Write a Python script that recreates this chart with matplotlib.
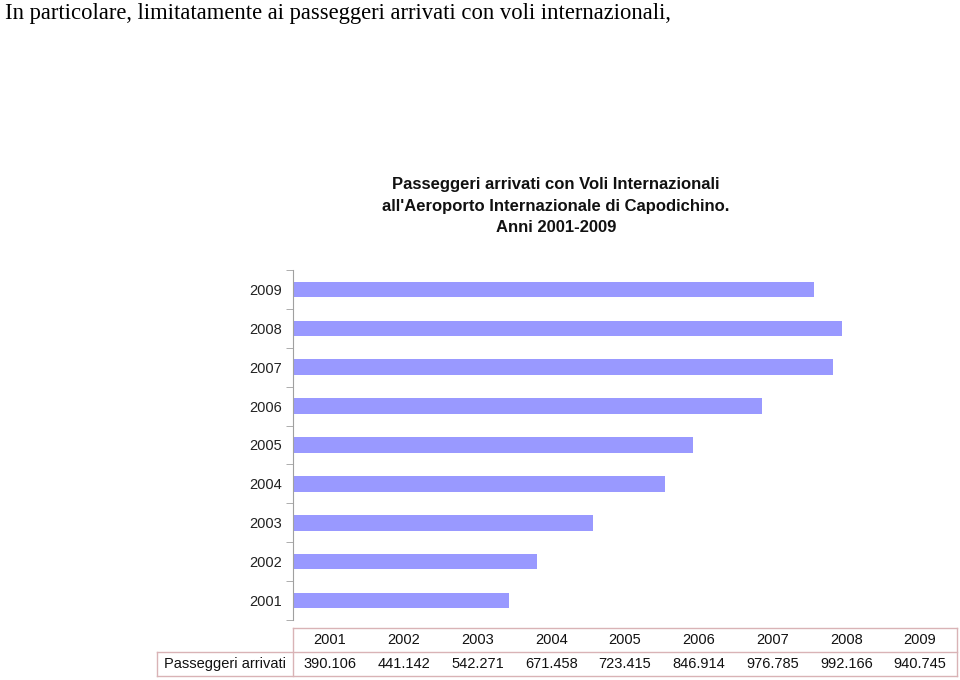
import numpy as np
import matplotlib.pyplot as plt

years = ['2001', '2002', '2003', '2004', '2005', '2006', '2007', '2008', '2009']
passengers = [390.106, 441.142, 542.271, 671.458, 723.415, 846.914, 976.785, 992.166, 940.745]
value_labels = ['390.106', '441.142', '542.271', '671.458', '723.415',
                '846.914', '976.785', '992.166', '940.745']
row_label = 'Passeggeri arrivati'

plt.rcParams['font.family'] = ['Liberation Sans', 'DejaVu Sans']

fig = plt.figure(figsize=(9.6, 6.8), dpi=100)
ax = fig.add_axes([293 / 960, 1 - 620 / 680, 664 / 960, 350 / 680])

# bars, 2001 at the bottom
pos = np.arange(len(years))
ax.barh(pos, passengers, height=0.4, color='#9999ff')
ax.set_xlim(0, 1200)
ax.set_ylim(-0.5, len(years) - 0.5)

for s in ['top', 'right', 'bottom']:
    ax.spines[s].set_visible(False)
ax.spines['left'].set_color('#a0a0a0')
ax.set_xticks([])
ax.set_yticks(pos)
ax.set_yticklabels(years, fontsize=10.5, color='#222222')
ax.tick_params(axis='y', which='major', length=0, pad=8)
ax.set_yticks(np.arange(len(years) + 1) - 0.5, minor=True)
ax.tick_params(axis='y', which='minor', length=5, color='#a0a0a0')

# data table under the axes
n = len(years)
tr = ax.transAxes
y_top, y_mid, y_bot = -8 / 350, -32 / 350, -56 / 350
x_lab = -136 / 664
bc = '#d9b3b6'
kw = dict(transform=tr, clip_on=False, color=bc, lw=1)
ax.plot([0, 1], [y_top, y_top], **kw)
ax.plot([x_lab, 1], [y_mid, y_mid], **kw)
ax.plot([x_lab, 1], [y_bot, y_bot], **kw)
ax.plot([x_lab, x_lab], [y_mid, y_bot], **kw)
ax.plot([0, 0], [y_top, y_bot], **kw)
ax.plot([1, 1], [y_top, y_bot], **kw)
for i in range(n):
    xc = (i + 0.5) / n
    ax.text(xc, (y_top + y_mid) / 2, years[i], transform=tr, ha='center', va='center',
            fontsize=10.5, color='#111111')
    ax.text(xc, (y_mid + y_bot) / 2, value_labels[i], transform=tr, ha='center', va='center',
            fontsize=10.5, color='#111111')
ax.text(x_lab / 2, (y_mid + y_bot) / 2, row_label, transform=tr, ha='center', va='center',
        fontsize=10.5, color='#111111')

# titles
fig.text(5 / 960, 1 - 13 / 680, 'In particolare, limitatamente ai passeggeri arrivati con voli internazionali,',
         family=['Liberation Serif', 'DejaVu Serif'], fontsize=16.3, ha='left', va='center')
fig.text(556 / 960, 1 - 206 / 680,
         "Passeggeri arrivati con Voli Internazionali\nall'Aeroporto Internazionale di Capodichino.\nAnni 2001-2009",
         fontsize=12, fontweight='bold', ha='center', va='center', linespacing=1.55, color='#111111')

fig.savefig('out.png', dpi=100)
